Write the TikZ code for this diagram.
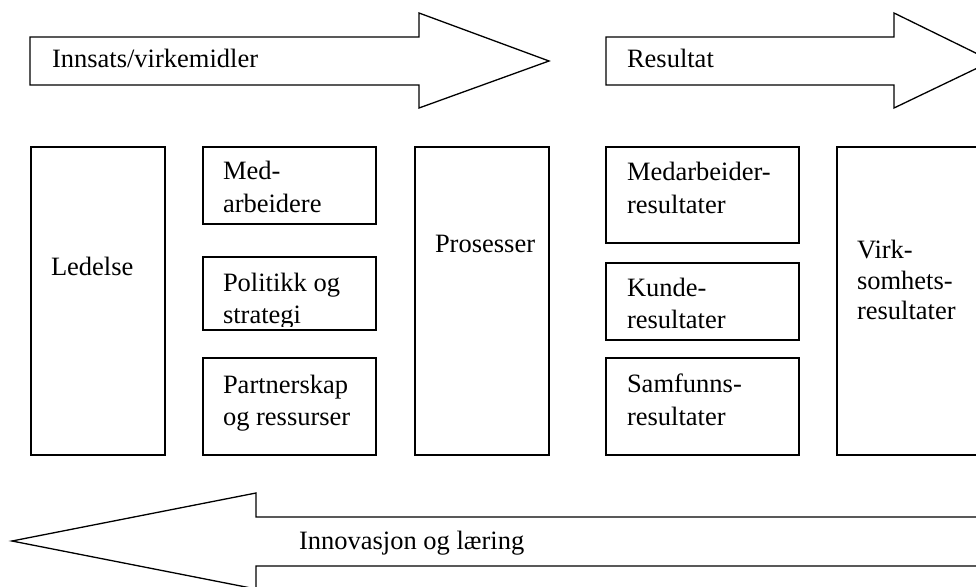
\documentclass[tikz,border=0pt]{standalone}
\usepackage{fontspec}
\setmainfont{Liberation Serif}
\begin{document}
\begin{tikzpicture}[x=1pt,y=-1pt,
  box/.style={draw, line width=1.3pt, inner sep=0pt, outer sep=0pt, anchor=north west, fill=white},
  lbl/.style={inner sep=0pt, outer sep=0pt, anchor=base west, font=\fontsize{26.5}{32}\selectfont},
  shapeline/.style={draw, line width=1.3pt, fill=white, line join=miter}]
\useasboundingbox (0,0) rectangle (976,586);
\clip (0,0) rectangle (976,586);
\fill[white] (0,0) rectangle (976,586);

% top arrows
\draw[shapeline] (30,37) -- (419,37) -- (419,13) -- (549,61) -- (419,108) -- (419,85) -- (30,85) -- cycle;
\node[lbl] (tin) at (52,67) {Innsats/virkemidler};
\draw[shapeline] (606,37) -- (894,37) -- (894,13) -- (992,61) -- (894,108) -- (894,85) -- (606,85) -- cycle;
\node[lbl] (tres) at (627,67) {Resultat};

% boxes
\node[box, minimum width=134pt, minimum height=308pt] (led) at (31,147) {};
\node[lbl] (tled) at (51,275) {Ledelse};

\node[box, minimum width=173pt, minimum height=77pt] (med) at (203,147) {};
\node[lbl] (tmed1) at (223,179) {Med-};
\node[lbl] (tmed2) at (223,212) {arbeidere};

\node[box, minimum width=173pt, minimum height=73pt] (pol) at (203,257) {};
\begin{scope}
\clip (203,257) rectangle (376,326);
\node[lbl] (tpol1) at (223,291) {Politikk og};
\node[lbl] (tpol2) at (223,323) {strategi};
\end{scope}

\node[box, minimum width=173pt, minimum height=97pt] (par) at (203,358) {};
\node[lbl] (tpar1) at (223,393) {Partnerskap};
\node[lbl] (tpar2) at (223,425) {og ressurser};

\node[box, minimum width=134pt, minimum height=308pt] (pro) at (415,147) {};
\node[lbl] (tpro) at (435,252) {Prosesser};

\node[box, minimum width=193pt, minimum height=96pt] (mres) at (606,147) {};
\node[lbl] (tmres1) at (627,180) {Medarbeider-};
\node[lbl] (tmres2) at (627,213) {resultater};

\node[box, minimum width=193pt, minimum height=77pt] (kres) at (606,263) {};
\node[lbl] (tkres1) at (627,296) {Kunde-};
\node[lbl] (tkres2) at (627,328) {resultater};

\node[box, minimum width=193pt, minimum height=97pt] (sres) at (606,358) {};
\node[lbl] (tsres1) at (627,392) {Samfunns-};
\node[lbl] (tsres2) at (627,425) {resultater};

\node[box, minimum width=180pt, minimum height=308pt] (vres) at (837,147) {};
\node[lbl] (tvres1) at (857,258) {Virk-};
\node[lbl] (tvres2) at (857,289) {somhets-};
\node[lbl] (tvres3) at (857,319) {resultater};

% bottom arrow
\draw[shapeline] (12,541) -- (256,493) -- (256,517) -- (1010,517) -- (1010,566) -- (256,566) -- (256,589) -- cycle;
\node[lbl] (tinn) at (299,549) {Innovasjon og læring};
\end{tikzpicture}
\end{document}
